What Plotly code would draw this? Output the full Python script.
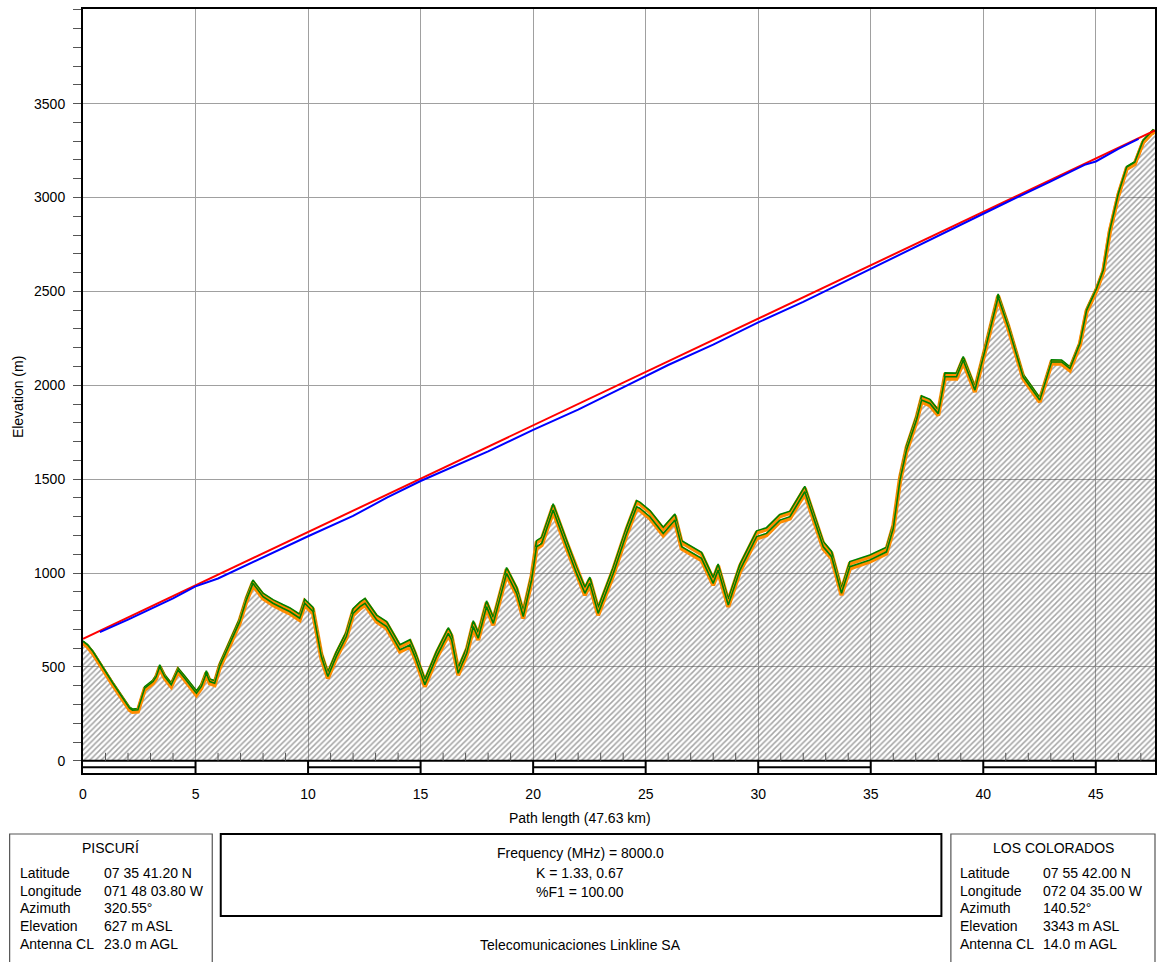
import plotly.graph_objects as go

# ---------------- data ----------------
PATH_KM = 47.63
K_VALUES = [1.33, 0.67]

profile_km = [0.00, 0.20, 0.44, 0.81, 1.33, 2.07, 2.20, 2.44, 2.59, 2.74, 3.11, 3.25, 3.41, 3.63, 3.92,
              4.22, 4.52, 5.04, 5.26, 5.48, 5.63, 5.85, 6.07, 6.52, 6.96, 7.26, 7.55, 8.00, 8.44, 8.88,
              9.18, 9.63, 9.85, 10.22, 10.59, 10.88, 11.25, 11.70, 12.00, 12.31, 12.53, 13.05, 13.49,
              14.08, 14.53, 14.75, 15.19, 15.71, 16.23, 16.38, 16.67, 17.05, 17.34, 17.56, 17.93, 18.23,
              18.82, 19.27, 19.56, 19.93, 20.15, 20.38, 20.89, 21.49, 21.93, 22.30, 22.52, 22.89, 23.56,
              24.15, 24.60, 24.74, 25.19, 25.78, 26.30, 26.60, 27.48, 28.00, 28.22, 28.67, 29.19, 29.93,
              30.37, 30.96, 31.41, 32.07, 32.44, 32.89, 33.26, 33.70, 34.07, 34.96, 35.70, 36.00, 36.30,
              36.59, 37.04, 37.26, 37.63, 38.00, 38.30, 38.81, 39.11, 39.63, 40.15, 40.66, 41.11, 41.77,
              42.51, 43.03, 43.48, 43.85, 44.29, 44.59, 45.03, 45.33, 45.62, 46.00, 46.37, 46.73, 47.10,
              47.54, 47.63]
profile_k133_m = [627, 608, 572, 501, 403, 270, 260, 262, 315, 377, 412, 438, 492, 439, 395,
                  474, 430, 350, 386, 456, 412, 403, 492, 616, 731, 847, 935, 864, 829, 802,
                  785, 749, 829, 785, 545, 439, 545, 652, 775, 811, 829, 740, 705,
                  581, 607, 545, 395, 545, 669, 634, 456, 563, 705, 643, 811, 722,
                  988, 882, 758, 953, 1130, 1148, 1326, 1130, 988, 882, 935, 775, 988,
                  1201, 1343, 1335, 1290, 1201, 1272, 1130, 1068, 935, 1006, 820, 1006, 1184,
                  1201, 1272, 1290, 1423, 1290, 1130, 1077, 882, 1024, 1060, 1103, 1228, 1485,
                  1645, 1808, 1911, 1893, 1839, 2035, 2035, 2123, 1964, 2212, 2460, 2301, 2035,
                  1911, 2114, 2114, 2079, 2212, 2389, 2504, 2602, 2815, 3010, 3152, 3178, 3294,
                  3350, 3343]

los_km = [0.0, PATH_KM]
los_m = [650, 3357]

clearance_km = [0.75, 2.0, 4.0, 5.0, 6.0, 8.0, 10.0, 12.0, 13.5, 15.0, 16.0, 18.0, 20.0, 22.0, 24.0,
                26.0, 28.0, 30.0, 32.0, 34.0, 35.0, 37.0, 39.0, 41.0, 43.0, 44.5, 45.0, 46.0, 46.9]
clearance_m = [685, 752, 865, 929, 971, 1085, 1196, 1304, 1402, 1490, 1544, 1648, 1762, 1870, 1989,
               2108, 2216, 2335, 2444, 2562, 2619, 2738, 2856, 2972, 3086, 3174, 3192, 3259, 3312]

x_tick_vals = [0, 5, 10, 15, 20, 25, 30, 35, 40, 45]
y_tick_vals = [0, 500, 1000, 1500, 2000, 2500, 3000, 3500]

site_rows = ["Latitude", "Longitude", "Azimuth", "Elevation", "Antenna CL"]
site_a_name = "PISCURÍ"
site_a_vals = ["07 35 41.20 N", "071 48 03.80 W", "320.55°", "627 m ASL", "23.0 m AGL"]
site_b_name = "LOS COLORADOS"
site_b_vals = ["07 55 42.00 N", "072 04 35.00 W", "140.52°", "3343 m ASL", "14.0 m AGL"]
center_lines = ["Frequency (MHz) = 8000.0", "K = 1.33, 0.67", "%F1 = 100.00"]
company = "Telecomunicaciones Linkline SA"

CLUTTER_M = 10

# ---------------- derived ----------------
def bulge(d, k):
    return d * (PATH_KM - d) / (12.74 * k)

profile_k067_m = [h + bulge(d, K_VALUES[1]) - bulge(d, K_VALUES[0])
                  for d, h in zip(profile_km, profile_k133_m)]

FONT = "Liberation Sans, Arial, sans-serif"
ORANGE = "#ff8c00"
GREEN = "#008000"

fig = go.Figure()

fig.add_trace(go.Scatter(
    x=profile_km, y=profile_k133_m, mode="lines", line=dict(width=0, color="rgba(0,0,0,0)"),
    fill="tozeroy", fillcolor="rgba(0,0,0,0)",
    fillpattern=dict(shape="/", fgcolor="#4a4a4a", bgcolor="rgba(0,0,0,0)", size=4, solidity=0.38),
    hoverinfo="skip", showlegend=False))

for prof in (profile_k067_m, profile_k133_m):
    fig.add_trace(go.Scatter(x=profile_km, y=prof, mode="lines",
                             line=dict(color=ORANGE, width=4), showlegend=False, hoverinfo="skip"))
    fig.add_trace(go.Scatter(x=profile_km, y=[v + CLUTTER_M for v in prof], mode="lines",
                             line=dict(color=GREEN, width=1.6), showlegend=False, hoverinfo="skip"))

fig.add_trace(go.Scatter(x=los_km, y=los_m, mode="lines", line=dict(color="#ff0000", width=2),
                         showlegend=False, hoverinfo="skip"))
fig.add_trace(go.Scatter(x=clearance_km, y=clearance_m, mode="lines", line=dict(color="#0000ff", width=2),
                         showlegend=False, hoverinfo="skip"))

# ---------------- layout geometry (page pixel coords) ----------------
FIG_W, FIG_H = 1160, 962
L, R, T, B = 83, 1157, 9, 773
W, H = R - L, B - T
def pxx(x):
    return (x - L) / W
def pxy(y):
    return (B - y) / H

Y_MIN, Y_MAX = -65, 4004

shapes = []
shapes.append(dict(type="line", xref="x", yref="y", x0=0, x1=PATH_KM, y0=0, y1=0,
                   line=dict(color="black", width=2)))
for i, xv in enumerate(x_tick_vals):
    if i % 2 == 0:
        shapes.append(dict(type="line", xref="x", yref="y", x0=xv, x1=xv + 5, y0=-35, y1=-35,
                           line=dict(color="black", width=2)))
    if xv > 0:
        shapes.append(dict(type="line", xref="x", yref="y", x0=xv, x1=xv, y0=0, y1=Y_MIN,
                           line=dict(color="black", width=2)))
for k in range(1, int(PATH_KM) + 1):
    if k % 5:
        shapes.append(dict(type="line", xref="x", yref="y", x0=k, x1=k, y0=0, y1=8,
                           ysizemode="pixel", yanchor=0, line=dict(color="#555", width=1)))

shapes.append(dict(type="rect", xref="paper", yref="paper", x0=pxx(9.5), x1=pxx(212.5),
                   y0=pxy(975), y1=pxy(834), line=dict(color="#555", width=1.2)))
shapes.append(dict(type="rect", xref="paper", yref="paper", x0=pxx(221), x1=pxx(943),
                   y0=pxy(916), y1=pxy(834), line=dict(color="black", width=2)))
shapes.append(dict(type="rect", xref="paper", yref="paper", x0=pxx(952.5), x1=pxx(1157),
                   y0=pxy(975), y1=pxy(834), line=dict(color="#555", width=1.2)))

ann = []
def txt(x, y, s, anchor="left", angle=0):
    ann.append(dict(xref="paper", yref="paper", x=pxx(x), y=pxy(y), text=s, showarrow=False,
                    xanchor=anchor, yanchor="middle", textangle=angle,
                    font=dict(family=FONT, size=14, color="black")))

txt(581, 818, "Path length (47.63 km)", "center")
txt(18, 397, "Elevation (m)", "center", -90)

row_y = [873, 891, 908, 926, 944]
txt(111, 848, site_a_name, "center")
for yv, lab, val in zip(row_y, site_rows, site_a_vals):
    txt(18, yv, lab)
    txt(102, yv, val)
txt(1055, 848, site_b_name, "center")
for yv, lab, val in zip(row_y, site_rows, site_b_vals):
    txt(960, yv, lab)
    txt(1043, yv, val)
for yv, s in zip([853, 873, 892], center_lines):
    txt(581, yv, s, "center")
txt(581, 945, company, "center")

fig.update_layout(
    width=FIG_W, height=FIG_H,
    margin=dict(l=L, r=FIG_W - R, t=T, b=FIG_H - B),
    paper_bgcolor="white", plot_bgcolor="white",
    shapes=shapes, annotations=ann,
    font=dict(family=FONT, size=14, color="black"),
    showlegend=False,
)
fig.update_xaxes(range=[0, PATH_KM], tickvals=x_tick_vals, showgrid=True, gridcolor="#a0a0a0",
                 gridwidth=1, zeroline=False, showline=True, linecolor="black", linewidth=2, mirror=True,
                 ticks="outside", ticklen=7, tickcolor="rgba(0,0,0,0)",
                 tickfont=dict(family=FONT, size=14, color="black"))
fig.update_yaxes(range=[Y_MIN, Y_MAX], tickvals=y_tick_vals, showgrid=True, gridcolor="#a0a0a0",
                 gridwidth=1, zeroline=False, showline=True, linecolor="black", linewidth=2, mirror=True,
                 ticks="outside", ticklen=8, tickcolor="#555", ticklabelstandoff=5,
                 minor=dict(tickmode="linear", tick0=0, dtick=100, ticks="outside", ticklen=8,
                            tickcolor="#555", showgrid=False),
                 tickfont=dict(family=FONT, size=14, color="black"))

fig.write_html("out.html", config={"displayModeBar": False},
               post_script="document.body.style.margin='0';document.body.style.overflow='hidden';")
